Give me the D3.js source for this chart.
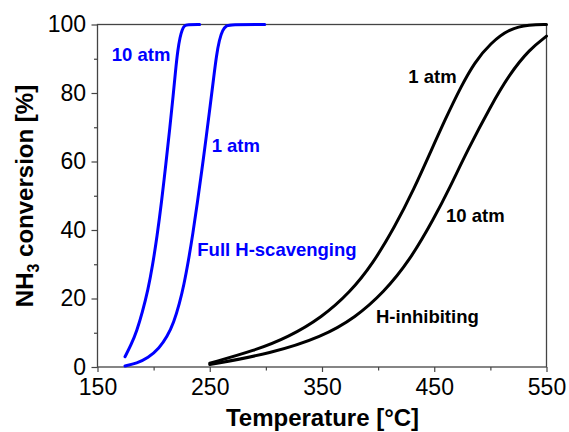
<!DOCTYPE html>
<html>
<head>
<meta charset="utf-8">
<script src="https://cdn.jsdelivr.net/npm/d3@7"></script>
<style>
  body { margin: 0; background: #fff; }
  svg text { font-family: "Liberation Sans", Arial, sans-serif; }
</style>
</head>
<body>
<script>
// Full H-scavenging, 10 atm
var tempScav10 = [174.5, 180, 185, 190, 195, 199, 203, 207, 211, 214.5, 217.5, 219.5, 221.5, 223.5, 225.5, 227.5, 230, 241]
var convScav10 = [3.0, 6.5, 10.5, 16, 22.5, 29.5, 38, 48, 59.5, 70, 79.5, 86.5, 92.5, 96.3, 98.6, 99.7, 100, 100]
// Full H-scavenging, 1 atm
var tempScav1 = [174.5, 185, 195, 205, 212, 218, 223, 227, 231, 235, 239, 243, 247, 250.5, 253.5, 256, 258.5, 261.5, 265, 268, 299]
var convScav1 = [0.3, 1.1, 2.6, 5.5, 8.8, 13, 18.5, 24, 31, 39, 48, 57.5, 67.5, 76.5, 84.5, 91, 95.5, 98.5, 99.7, 100, 100]
// H-inhibiting, 1 atm
var tempInh1 = [250, 290, 320, 350, 375, 395, 415, 432, 447, 460, 474, 486, 500, 517, 535, 550]
var convInh1 = [1.1, 4.8, 8.7, 14.5, 21.8, 30, 41, 52, 63, 72.5, 82, 89, 94.5, 98.8, 100, 100]
// H-inhibiting, 10 atm
var tempInh10 = [250, 305, 350, 380, 405, 428, 450, 464, 480, 500, 517, 535, 550]
var convInh10 = [0.7, 4, 8.8, 14.5, 21.8, 31, 43.5, 52.5, 63.5, 76, 85.5, 92.8, 96.6]

var xMajor = [150, 250, 350, 450, 550]
var xMinor = [200, 300, 400, 500]
var yMajor = [0, 20, 40, 60, 80, 100]
var yMinor = [10, 30, 50, 70, 90]

var blue = "#0000ff"
var width = 569, height = 432

var svg = d3.select("body").append("svg")
  .attr("width", width)
  .attr("height", height)

var x = d3.scaleLinear().domain([150, 550]).range([97.5, 546.5])
var y = d3.scaleLinear().domain([0, 100]).range([367, 24.5])

function pairs(ts, vs) {
  return ts.map(function(t, i) { return [t, vs[i]] })
}

var series = [
  {pts: pairs(tempScav10, convScav10), color: blue},
  {pts: pairs(tempScav1, convScav1), color: blue},
  {pts: pairs(tempInh1, convInh1), color: "#000"},
  {pts: pairs(tempInh10, convInh10), color: "#000"}
]

var line = d3.line()
  .x(function(d) { return x(d[0]) })
  .y(function(d) { return y(d[1]) })
  .curve(d3.curveBasis)

// axes
var axisX = svg.append("g").attr("transform", "translate(0," + y(0) + ")")
axisX.call(d3.axisBottom(x).tickValues(xMajor).tickSize(5).tickPadding(6.5).tickSizeOuter(0))
var axisXMinor = svg.append("g").attr("transform", "translate(0," + y(0) + ")")
axisXMinor.call(d3.axisBottom(x).tickValues(xMinor).tickSize(3.5).tickFormat("").tickSizeOuter(0))

var axisY = svg.append("g").attr("transform", "translate(" + x(150) + ",0)")
axisY.call(d3.axisLeft(y).tickValues(yMajor).tickSize(6).tickPadding(5.5).tickSizeOuter(0))
var axisYMinor = svg.append("g").attr("transform", "translate(" + x(150) + ",0)")
axisYMinor.call(d3.axisLeft(y).tickValues(yMinor).tickSize(3.5).tickFormat("").tickSizeOuter(0))

svg.selectAll(".domain").remove()
svg.selectAll(".tick line").attr("stroke", "#444").attr("stroke-width", 1.2)
svg.selectAll(".tick text")
  .attr("font-size", 23)
  .attr("font-family", "Liberation Sans, Arial, sans-serif")
  .attr("fill", "#000")

// frame
svg.append("rect")
  .attr("x", x(150))
  .attr("y", y(100))
  .attr("width", x(550) - x(150))
  .attr("height", y(0) - y(100))
  .attr("fill", "none")
  .attr("stroke", "#444")
  .attr("stroke-width", 1.3)

// curves
svg.selectAll("path.curve")
  .data(series)
  .enter()
  .append("path")
  .attr("class", "curve")
  .attr("d", function(d) { return line(d.pts) })
  .attr("fill", "none")
  .attr("stroke", function(d) { return d.color })
  .attr("stroke-width", 3)
  .attr("stroke-linecap", "round")

// annotations
function note(t, v, txt, col) {
  svg.append("text")
    .attr("x", x(t))
    .attr("y", y(v))
    .attr("font-size", 18.5)
    .attr("font-weight", "bold")
    .attr("fill", col)
    .text(txt)
}
note(162.7, 89.3, "10 atm", blue)
note(251.7, 62.9, "1 atm", blue)
note(238.9, 32.4, "Full H-scavenging", blue)
note(426.9, 82.8, "1 atm", "#000")
note(460.5, 42.4, "10 atm", "#000")
note(398.1, 12.8, "H-inhibiting", "#000")

// axis titles
svg.append("text")
  .attr("x", 322.5)
  .attr("y", 426)
  .attr("text-anchor", "middle")
  .attr("font-size", 24)
  .attr("font-weight", "bold")
  .text("Temperature [°C]")

var yTitle = svg.append("text")
  .attr("transform", "translate(33,196) rotate(-90)")
  .attr("text-anchor", "middle")
  .attr("font-size", 24)
  .attr("font-weight", "bold")
yTitle.append("tspan").text("NH")
yTitle.append("tspan").attr("font-size", 16).attr("dy", 6).text("3")
yTitle.append("tspan").attr("dy", -6).text(" conversion [%]")
</script>
</body>
</html>
